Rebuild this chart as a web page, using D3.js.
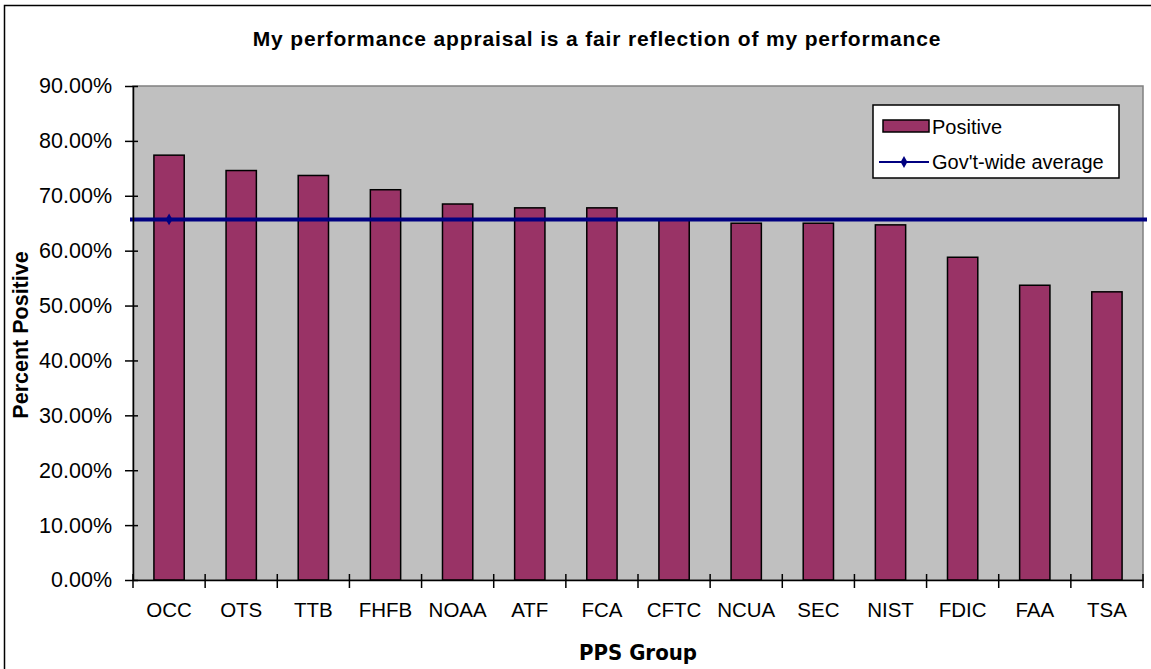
<!DOCTYPE html>
<html>
<head>
<meta charset="utf-8">
<script src="https://cdn.jsdelivr.net/npm/d3@7"></script>
<style>
  body { margin: 0; background: #fff; }
  svg { display: block; }
  .tick text { font-family: "Liberation Sans", Arial, sans-serif; fill: #000; }
</style>
</head>
<body>
<div class="container"></div>
<script>
// data
var groups = ["OCC", "OTS", "TTB", "FHFB", "NOAA", "ATF", "FCA", "CFTC", "NCUA", "SEC", "NIST", "FDIC", "FAA", "TSA"];
var positive = [0.774, 0.746, 0.737, 0.711, 0.685, 0.678, 0.678, 0.656, 0.650, 0.650, 0.647, 0.588, 0.537, 0.525];
var govAverage = 0.657;
var yTicks = [0, 0.1, 0.2, 0.3, 0.4, 0.5, 0.6, 0.7, 0.8, 0.9];

var width = 1151, height = 669;
var plot = { left: 133, top: 86, right: 1143, bottom: 580 };

var svg = d3.select(".container").append("svg")
    .attr("width", width)
    .attr("height", height);

// outer chart border (runs off the right and bottom of the picture)
svg.append("rect")
    .attr("x", 4.5).attr("y", 5.5)
    .attr("width", width + 10).attr("height", height + 10)
    .attr("fill", "#fff")
    .attr("stroke", "#000")
    .attr("stroke-width", 1.5);

var x = d3.scaleBand()
    .domain(groups)
    .range([plot.left, plot.right])
    .paddingInner(0.58)
    .paddingOuter(0.29);

var y = d3.scaleLinear()
    .domain([0, 0.9])
    .range([plot.bottom, plot.top]);

// plot area
svg.append("rect")
    .attr("x", plot.left).attr("y", plot.top)
    .attr("width", plot.right - plot.left)
    .attr("height", plot.bottom - plot.top)
    .attr("fill", "#c0c0c0")
    .attr("stroke", "#808080")
    .attr("stroke-width", 1.5);

svg.selectAll(".bar")
    .data(groups)
    .enter()
    .append("rect")
    .classed("bar", true)
    .attr("x", d => x(d))
    .attr("y", (d, i) => y(positive[i]))
    .attr("width", x.bandwidth())
    .attr("height", (d, i) => y(0) - y(positive[i]))
    .attr("fill", "#993366")
    .attr("stroke", "#000")
    .attr("stroke-width", 1.5);

// gov't-wide average line, one marker on the first group
svg.append("line")
    .attr("x1", plot.left - 3)
    .attr("x2", plot.right + 4)
    .attr("y1", y(govAverage))
    .attr("y2", y(govAverage))
    .attr("stroke", "#000080")
    .attr("stroke-width", 4);
svg.append("path")
    .attr("d", d3.symbol().type(d3.symbolDiamond).size(40)())
    .attr("transform", "translate(" + (x(groups[0]) + x.bandwidth() / 2) + "," + y(govAverage) + ")")
    .attr("fill", "#000080");

// y axis
var yAxis = svg.append("g")
    .attr("transform", "translate(" + plot.left + ",0)")
    .call(d3.axisLeft(y)
        .tickValues(yTicks)
        .tickFormat(d3.format(".2%"))
        .tickSizeInner(8)
        .tickSizeOuter(0)
        .tickPadding(13));
yAxis.select(".domain").attr("stroke", "#000").attr("stroke-width", 1.5);
yAxis.selectAll(".tick text").style("font-size", "21.5px");
yAxis.selectAll(".tick line")
    .attr("x1", -8).attr("x2", 5)
    .attr("stroke", "#000").attr("stroke-width", 1.5);

// x axis: ticks sit between the groups
var step = x.step();
var xAxis = svg.append("g")
    .attr("transform", "translate(0," + plot.bottom + ")")
    .call(d3.axisBottom(x).tickSize(0).tickPadding(22));
xAxis.select(".domain").attr("stroke", "#000").attr("stroke-width", 1.5);
xAxis.selectAll(".tick text").style("font-size", "20.5px");
xAxis.selectAll(".tick")
    .append("line")
    .attr("x1", step / 2).attr("x2", step / 2)
    .attr("y1", -6).attr("y2", 8)
    .attr("stroke", "#000").attr("stroke-width", 1.5);
xAxis.append("line")
    .attr("x1", plot.left).attr("x2", plot.left)
    .attr("y1", -6).attr("y2", 8)
    .attr("stroke", "#000").attr("stroke-width", 1.5);

// titles
svg.append("text")
    .attr("x", 597).attr("y", 46)
    .attr("text-anchor", "middle")
    .style("font-family", "'Liberation Sans', Arial, sans-serif")
    .style("font-weight", "bold")
    .style("font-size", "21px")
    .style("letter-spacing", "0.85px")
    .text("My performance appraisal is a fair reflection of my performance");

svg.append("text")
    .attr("transform", "translate(28," + ((plot.top + plot.bottom) / 2 + 2) + ") rotate(-90)")
    .attr("text-anchor", "middle")
    .style("font-family", "'Liberation Sans', Arial, sans-serif")
    .style("font-weight", "bold")
    .style("font-size", "21.5px")
    .text("Percent Positive");

svg.append("text")
    .attr("x", 638).attr("y", 660)
    .attr("text-anchor", "middle")
    .style("font-family", "'Liberation Sans Narrow', 'DejaVu Sans Condensed', sans-serif")
    .style("font-weight", "bold")
    .style("font-size", "22px")
    .text("PPS Group");

// legend
var legend = svg.append("g").attr("transform", "translate(873,105)");
legend.append("rect")
    .attr("width", 246).attr("height", 73)
    .attr("fill", "#fff").attr("stroke", "#000").attr("stroke-width", 1.5);
legend.append("rect")
    .attr("x", 10).attr("y", 15).attr("width", 46).attr("height", 12)
    .attr("fill", "#993366").attr("stroke", "#000").attr("stroke-width", 1.5);
legend.append("text")
    .attr("x", 59).attr("y", 29)
    .style("font-family", "'Liberation Sans', Arial, sans-serif")
    .style("font-size", "20px")
    .text("Positive");
legend.append("line")
    .attr("x1", 6).attr("x2", 56).attr("y1", 57).attr("y2", 57)
    .attr("stroke", "#000080").attr("stroke-width", 2);
legend.append("path")
    .attr("d", d3.symbol().type(d3.symbolDiamond).size(40)())
    .attr("transform", "translate(31,57)")
    .attr("fill", "#000080");
legend.append("text")
    .attr("x", 59).attr("y", 64)
    .style("font-family", "'Liberation Sans', Arial, sans-serif")
    .style("font-size", "20px")
    .text("Gov't-wide average");
</script>
</body>
</html>
